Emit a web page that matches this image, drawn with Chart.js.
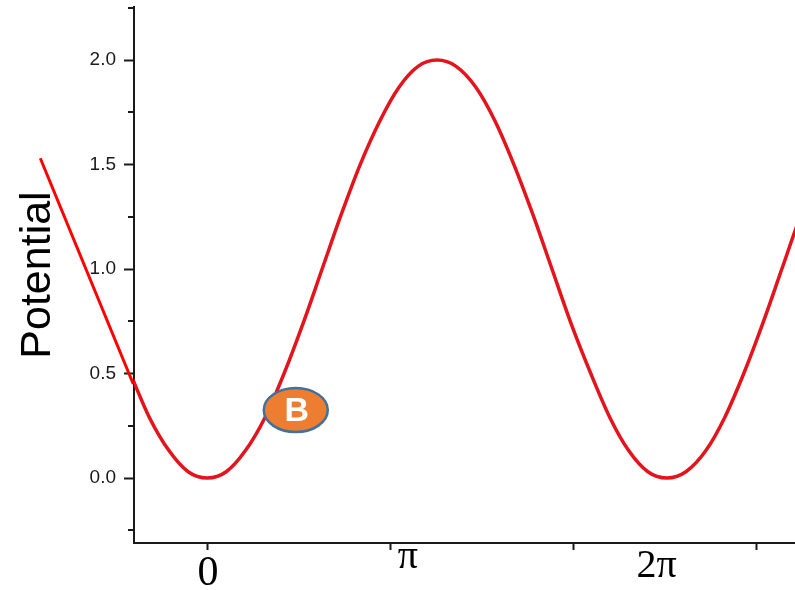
<!DOCTYPE html>
<html>
<head>
<meta charset="utf-8">
<title>Potential</title>
<script src="https://cdn.jsdelivr.net/npm/chart.js@4/dist/chart.umd.min.js"></script>
<style>
  html, body { margin: 0; padding: 0; background: #ffffff; }
  #wrap { width: 795px; height: 590px; }
</style>
</head>
<body>
<div id="wrap"><canvas id="chart" width="795" height="590"></canvas></div>
<script>
// Phase angle (radians) and potential along the curve
const phase = [-1.05, -0.79, -0.52, -0.26, 0, 0.26, 0.52, 0.79, 1.05, 1.31, 1.57, 1.83, 2.09, 2.36, 2.62, 2.88,
  3.14, 3.40, 3.67, 3.93, 4.19, 4.45, 4.71, 4.97, 5.24, 5.50, 5.76, 6.02, 6.28, 6.54, 6.81,
  7.07, 7.33, 7.59, 7.85, 8.11, 8.38];
const potential = [0.50, 0.29, 0.13, 0.03, 0.00, 0.03, 0.13, 0.29, 0.50, 0.74, 1.00, 1.26, 1.50, 1.71, 1.87, 1.97,
  2.00, 1.97, 1.87, 1.71, 1.50, 1.26, 1.00, 0.74, 0.50, 0.29, 0.13, 0.03, 0.00, 0.03, 0.13,
  0.29, 0.50, 0.74, 1.00, 1.26, 1.50];

// Straight tangent segment continuing the curve past the left axis
const tangentPhase = [-2.28, -1.01];
const tangentPotential = [1.53, 0.45];

// Axis ticks
const yMajorTicks = [0, 0.5, 1.0, 1.5, 2.0];
const yMinorTicks = [-0.25, 0.25, 0.75, 1.25, 1.75, 2.25];
const xTicks = [0, 2.5, 5, 7.5];

// Phase labels under the x axis and where they sit (radians)
const phaseLabels = ['0', '\u03c0', '2\u03c0'];
const phaseLabelAt = [0.01, 2.74, 6.14];

// Point marker "B" on the curve
const markerText = 'B';
const markerAt = { x: 1.21, y: 0.325 };

const AXIS = '#1a1a1a';

const overlay = {
  id: 'overlay',
  afterDraw(chart) {
    const { ctx, scales: { x, y } } = chart;
    ctx.save();

    // minor ticks on the y axis
    ctx.strokeStyle = AXIS;
    ctx.lineWidth = 2;
    yMinorTicks.forEach(v => {
      const py = Math.round(y.getPixelForValue(v));
      ctx.beginPath();
      ctx.moveTo(x.left - 6, py);
      ctx.lineTo(x.left, py);
      ctx.stroke();
    });

    // phase labels
    ctx.fillStyle = '#000';
    ctx.textAlign = 'center';
    ctx.textBaseline = 'alphabetic';
    const baselines = [585, 568, 577];
    const sizes = [42, 40, 40];
    phaseLabels.forEach((t, i) => {
      ctx.font = sizes[i] + 'px "Liberation Serif", "Times New Roman", serif';
      ctx.fillText(t, x.getPixelForValue(phaseLabelAt[i]), baselines[i]);
    });

    // marker ellipse with letter
    const mx = x.getPixelForValue(markerAt.x);
    const my = y.getPixelForValue(markerAt.y);
    ctx.beginPath();
    ctx.ellipse(mx, my, 32, 22, 0, 0, Math.PI * 2);
    ctx.fillStyle = '#ed7d31';
    ctx.fill();
    ctx.lineWidth = 2.5;
    ctx.strokeStyle = '#41719c';
    ctx.stroke();
    ctx.fillStyle = '#ffffff';
    ctx.font = 'bold 34px "Liberation Sans", Arial, sans-serif';
    ctx.textBaseline = 'middle';
    ctx.fillText(markerText, mx + 1, my + 2);

    ctx.restore();
  }
};

new Chart(document.getElementById('chart'), {
  type: 'scatter',
  data: {
    datasets: [
      {
        data: phase.map((p, i) => ({ x: p, y: potential[i] })),
        showLine: true,
        borderColor: '#e3141b',
        borderWidth: 3.5,
        pointRadius: 0,
        cubicInterpolationMode: 'monotone'
      },
      {
        data: tangentPhase.map((p, i) => ({ x: p, y: tangentPotential[i] })),
        showLine: true,
        borderColor: '#ff0000',
        borderWidth: 3,
        pointRadius: 0,
        clip: false
      }
    ]
  },
  options: {
    responsive: false,
    animation: false,
    devicePixelRatio: 1,
    layout: { padding: { top: 7, left: 0, right: 0, bottom: 0 } },
    plugins: { legend: { display: false }, tooltip: { enabled: false } },
    scales: {
      x: {
        type: 'linear',
        min: -1,
        max: 8.03,
        afterBuildTicks: s => { s.ticks = xTicks.map(v => ({ value: v })); },
        afterFit: s => { s.height = 47; s.paddingLeft = 0; s.paddingRight = 0; },
        border: { color: AXIS, width: 2 },
        grid: { drawOnChartArea: false, tickLength: 7, tickColor: AXIS, tickWidth: 2 },
        ticks: { display: false }
      },
      y: {
        type: 'linear',
        min: -0.311,
        max: 2.254,
        afterBuildTicks: s => { s.ticks = yMajorTicks.map(v => ({ value: v })); },
        afterFit: s => { s.width = 134; s.paddingTop = 0; s.paddingBottom = 0; },
        border: { color: AXIS, width: 2 },
        grid: { drawOnChartArea: false, tickLength: 10, tickColor: AXIS, tickWidth: 2 },
        ticks: {
          color: '#1a1a1a',
          padding: 8,
          font: { family: '"Liberation Sans", Arial, sans-serif', size: 19 },
          callback: v => Number(v).toFixed(1)
        },
        title: {
          display: true,
          text: 'Potential',
          color: '#000',
          font: { family: '"Liberation Sans", Arial, sans-serif', size: 43 },
          padding: { top: 12, bottom: 0 }
        }
      }
    }
  },
  plugins: [overlay]
});
</script>
</body>
</html>
